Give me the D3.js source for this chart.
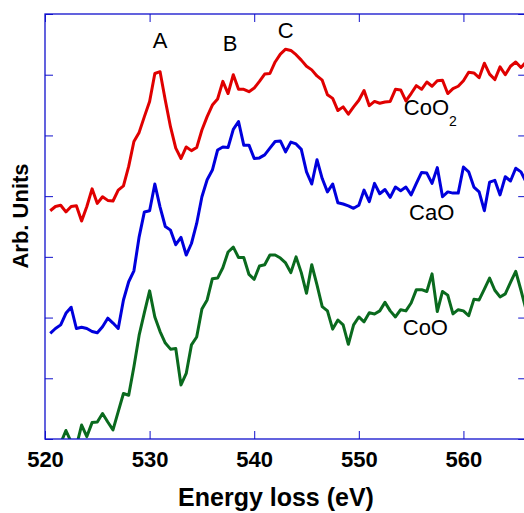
<!DOCTYPE html>
<html>

<head>
    <meta charset="utf-8">
    <style>
        body {
            margin: 0;
            background: #fff;
        }

        svg {
            font-family: 'Liberation Sans', Arial, sans-serif;
        }

        .axis .domain {
            display: none;
        }

        .axis .tick line {
            stroke: #1010cc;
        }

        .x.bottom .tick text {
            font-size: 22px;
            font-weight: bold;
            fill: #000;
        }
    </style>
</head>

<body>
    <svg width="524" height="513"></svg>
</body>

<script src="https://d3js.org/d3.v7.min.js"></script>

<script>

    // energy grid (eV), same for all three spectra
    let energy = [520.5, 521, 521.5, 522, 522.5, 523, 523.5, 524, 524.5, 525,
        525.5, 526, 526.5, 527, 527.5, 528, 528.5, 529, 529.5, 530,
        530.5, 531, 531.5, 532, 532.5, 533, 533.5, 534, 534.5, 535,
        535.5, 536, 536.5, 537, 537.5, 538, 538.5, 539, 539.5, 540,
        540.5, 541, 541.5, 542, 542.5, 543, 543.5, 544, 544.5, 545,
        545.5, 546, 546.5, 547, 547.5, 548, 548.5, 549, 549.5, 550,
        550.5, 551, 551.5, 552, 552.5, 553, 553.5, 554, 554.5, 555,
        555.5, 556, 556.5, 557, 557.5, 558, 558.5, 559, 559.5, 560,
        560.5, 561, 561.5, 562, 562.5, 563, 563.5, 564, 564.5, 565,
        565.5, 566]

    let coo2 = [3.76, 3.83, 3.85, 3.74, 3.83, 3.84, 3.59, 3.83, 4.12, 3.88,
        3.99, 3.93, 3.92, 4.10, 4.17, 4.49, 4.90, 5.05, 5.31, 5.56,
        6.02, 6.05, 5.58, 5.14, 4.79, 4.62, 4.81, 4.75, 4.80, 5.09,
        5.31, 5.50, 5.60, 5.89, 5.69, 6.00, 5.76, 5.76, 5.72, 5.78,
        5.89, 6.01, 6.02, 6.21, 6.34, 6.42, 6.40, 6.33, 6.24, 6.14,
        6.08, 5.98, 5.91, 5.67, 5.61, 5.41, 5.47, 5.35, 5.47, 5.58,
        5.74, 5.49, 5.56, 5.53, 5.55, 5.56, 5.76, 5.75, 5.57, 5.69,
        5.82, 5.76, 5.88, 5.81, 5.90, 5.91, 5.69, 5.77, 5.81, 5.90,
        6.04, 6.03, 5.95, 6.19, 6.01, 5.92, 6.13, 6.00, 6.14, 6.21,
        6.12, 6.21]

    let cao = [1.74, 1.82, 1.88, 2.07, 2.17, 1.82, 1.84, 1.82, 1.77, 1.75,
        1.85, 1.99, 1.91, 1.82, 2.29, 2.59, 2.77, 3.33, 3.74, 3.76,
        4.20, 3.82, 3.50, 3.44, 3.20, 3.32, 3.03, 3.22, 3.55, 3.99,
        4.27, 4.43, 4.76, 4.81, 4.80, 5.10, 5.23, 4.84, 4.84, 4.62,
        4.63, 4.68, 4.79, 4.90, 4.91, 4.73, 4.89, 4.86, 4.77, 4.40,
        4.20, 4.60, 4.29, 4.07, 4.20, 3.89, 3.87, 3.84, 3.80, 3.85,
        4.10, 3.91, 4.21, 4.04, 4.11, 3.98, 4.15, 4.09, 4.15, 4.02,
        4.21, 4.39, 4.38, 4.21, 4.47, 3.99, 4.07, 4.05, 4.05, 4.48,
        4.40, 4.15, 4.07, 3.76, 4.23, 4.26, 4.02, 4.32, 4.25, 4.46,
        4.40, 4.23]

    let coo = [-0.26, -0.18, -0.07, 0.14, -0.05, -0.12, 0.23, 0.04, 0.27, 0.28,
        0.42, 0.28, 0.15, 0.45, 0.75, 0.72, 1.19, 1.71, 2.08, 2.44,
        2.01, 1.77, 1.58, 1.48, 1.49, 0.89, 1.08, 1.55, 1.68, 2.14,
        2.29, 2.64, 2.65, 2.82, 3.08, 3.16, 2.99, 2.99, 2.71, 2.63,
        2.85, 2.87, 3.03, 3.03, 2.98, 2.90, 2.74, 3.00, 2.74, 2.40,
        2.87, 2.54, 2.18, 2.11, 1.81, 1.96, 1.88, 1.56, 1.88, 2.01,
        1.93, 2.08, 2.06, 2.11, 2.25, 2.11, 2.01, 2.13, 2.11, 2.24,
        2.46, 2.46, 2.43, 2.72, 2.10, 2.43, 2.37, 2.06, 2.13, 2.11,
        2.03, 2.30, 2.29, 2.47, 2.65, 2.45, 2.34, 2.39, 2.58, 2.76,
        2.45, 2.12]

    let xTicks = [520, 530, 540, 550, 560]
    let yTicks = [0, 1, 2, 3, 4, 5, 6, 7]

    // peak letters and spectrum names, placed in data units
    let peakNames = ["A", "B", "C"]
    let peakEnergy = [531.0, 537.7, 543.0]
    let peakLevel = [6.44, 6.39, 6.61]

    let seriesNames = ["CoO", "CaO", "CoO"]
    let seriesSub = ["2", "", ""]
    let seriesLabelEnergy = [554.3, 554.8, 554.2]
    let seriesLabelLevel = [5.34, 3.61, 1.71]

    let series = [
        { values: coo2, color: "#e00000" },
        { values: cao, color: "#0000dd" },
        { values: coo, color: "#0a6a1e" }
    ]

    let margin = { top: 14, left: 45, bottom: 74 }
    let plotRight = 526.2
    let height = 513

    let svg = d3.select("svg")

    let x = d3.scaleLinear()
        .domain([520, 566])
        .range([margin.left, plotRight])

    let y = d3.scaleLinear()
        .domain([0, 7])
        .range([height - margin.bottom - 0, margin.top])

    svg.append("defs").append("clipPath")
        .attr("id", "plot")
        .append("rect")
        .attr("x", margin.left)
        .attr("y", margin.top)
        .attr("width", plotRight - margin.left)
        .attr("height", y(0) - margin.top)

    // curves
    let line = d3.line()
        .x((d, i) => x(energy[i]))
        .y(d => y(d))

    svg.append("g")
        .attr("clip-path", "url(#plot)")
        .selectAll("path")
        .data(series)
        .join("path")
        .attr("d", d => line(d.values))
        .style("fill", "none")
        .style("stroke", d => d.color)
        .style("stroke-width", 3)
        .style("stroke-linejoin", "round")

    // frame
    svg.append("rect")
        .attr("x", margin.left)
        .attr("y", margin.top)
        .attr("width", plotRight - margin.left)
        .attr("height", y(0) - margin.top)
        .style("fill", "none")
        .style("stroke", "#1010cc")
        .style("stroke-width", 1.3)

    svg.append("g")
        .attr("class", "x bottom axis")
        .attr("transform", `translate(0,${y(0)})`)
        .call(d3.axisBottom(x).tickValues(xTicks).tickSizeInner(-8).tickSizeOuter(0).tickPadding(12).tickFormat(d3.format("d")))

    svg.append("g")
        .attr("class", "x top axis")
        .attr("transform", `translate(0,${margin.top})`)
        .call(d3.axisTop(x).tickValues(xTicks).tickSizeInner(-8).tickSizeOuter(0).tickFormat(""))

    svg.append("g")
        .attr("class", "y left axis")
        .attr("transform", `translate(${margin.left},0)`)
        .call(d3.axisLeft(y).tickValues(yTicks).tickSizeInner(-8).tickSizeOuter(0).tickFormat(""))

    svg.append("g")
        .attr("class", "y right axis")
        .attr("transform", `translate(${plotRight},0)`)
        .call(d3.axisRight(y).tickValues(yTicks).tickSizeInner(-8).tickSizeOuter(0).tickFormat(""))

    // axis titles
    svg.append("text")
        .attr("x", 276)
        .attr("y", 506)
        .attr("text-anchor", "middle")
        .style("font-size", "25px")
        .style("font-weight", "bold")
        .text("Energy loss (eV)")

    svg.append("text")
        .attr("transform", "translate(28,216) rotate(-90)")
        .attr("text-anchor", "middle")
        .style("font-size", "22px")
        .style("font-weight", "bold")
        .text("Arb. Units")

    // peak letters
    svg.append("g")
        .selectAll("text")
        .data(peakNames)
        .join("text")
        .attr("x", (d, i) => x(peakEnergy[i]))
        .attr("y", (d, i) => y(peakLevel[i]))
        .attr("text-anchor", "middle")
        .style("font-size", "22px")
        .text(d => d)

    // spectrum names
    let names = svg.append("g")
        .selectAll("text")
        .data(seriesNames)
        .join("text")
        .attr("x", (d, i) => x(seriesLabelEnergy[i]))
        .attr("y", (d, i) => y(seriesLabelLevel[i]))
        .style("font-size", "22px")
        .text(d => d)

    names.append("tspan")
        .attr("dy", 11)
        .style("font-size", "14px")
        .text((d, i) => seriesSub[i])

</script>

</html>
